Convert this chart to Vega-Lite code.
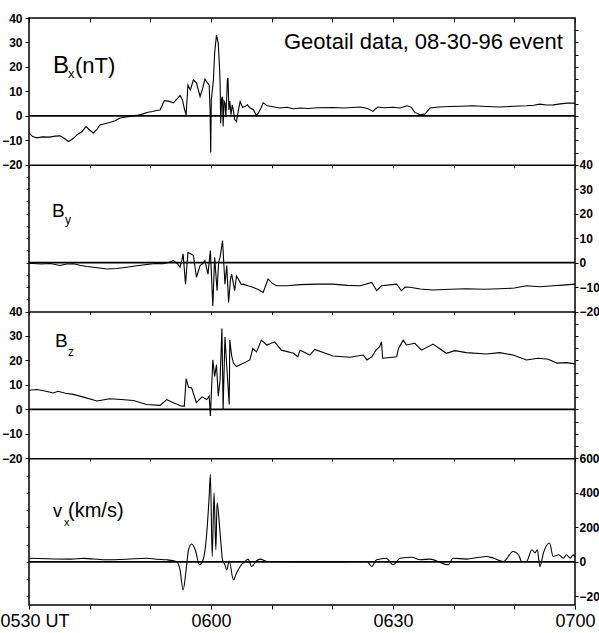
{
  "$schema": "https://vega.github.io/schema/vega-lite/v6.json",
  "width": 546,
  "height": 587,
  "autosize": {"type": "none"},
  "padding": {"left": 29, "top": 18, "right": 24, "bottom": 28},
  "background": "white",
  "config": {
    "view": {"stroke": "black", "strokeWidth": 1.5},
    "axis": {"domain": false, "grid": false, "tickColor": "black", "labelColor": "black", "labelFont": "Liberation Sans", "labelFontWeight": "bold", "labelFontSize": 12, "tickSize": 4, "title": null, "labelOverlap": false}
  },
  "data": {"values": [{"k": 0}]},
  "datasets": {
    "bx": [
      {"t":0,"v":-7},{"t":0.6,"v":-8.5},{"t":1.3,"v":-9},{"t":2.2,"v":-8.6},{"t":3.4,"v":-8.7},{"t":4.3,"v":-8.3},{"t":5.1,"v":-8.2},{"t":5.8,"v":-9.2},{"t":6.5,"v":-10.5},{"t":7.2,"v":-9.5},{"t":7.9,"v":-7.8},{"t":8.7,"v":-6.5},{"t":9.4,"v":-4.4},{"t":10.0,"v":-5.8},{"t":10.6,"v":-7},{"t":11.2,"v":-5.5},{"t":11.7,"v":-3.7},{"t":12.5,"v":-3.2},{"t":13.3,"v":-2.7},{"t":14.2,"v":-2.0},{"t":15,"v":-0.9},{"t":16,"v":-0.5},{"t":17.2,"v":0},{"t":18,"v":0.3},{"t":18.8,"v":0.8},{"t":19.6,"v":1.5},{"t":20.4,"v":1.8},{"t":21,"v":2.2},{"t":21.6,"v":2.4},{"t":22.0,"v":4.5},{"t":22.3,"v":6.2},{"t":23.0,"v":6.0},{"t":23.8,"v":5.3},{"t":24.4,"v":6.9},{"t":24.9,"v":8.3},{"t":25.3,"v":6.5},{"t":25.6,"v":3.0},{"t":25.9,"v":0.4},{"t":26.2,"v":12.6},{"t":26.6,"v":10.6},{"t":27.1,"v":14.7},{"t":27.6,"v":13.5},{"t":28.2,"v":7.9},{"t":28.6,"v":11},{"t":29.0,"v":15},{"t":29.4,"v":13.5},{"t":29.7,"v":12.6},{"t":29.85,"v":2},{"t":29.95,"v":-15},{"t":30.05,"v":6.5},{"t":30.4,"v":14.7},{"t":30.6,"v":25.6},{"t":30.9,"v":33},{"t":31.2,"v":29.6},{"t":31.4,"v":20},{"t":31.5,"v":13.5},{"t":31.6,"v":-3},{"t":31.75,"v":7},{"t":31.9,"v":7.8},{"t":32.0,"v":-4.4},{"t":32.15,"v":6},{"t":32.3,"v":5.3},{"t":32.45,"v":-0.3},{"t":32.6,"v":8},{"t":32.7,"v":14.7},{"t":32.8,"v":15.5},{"t":32.95,"v":2.4},{"t":33.1,"v":6},{"t":33.3,"v":0.5},{"t":33.5,"v":4.5},{"t":33.7,"v":2},{"t":33.9,"v":-1.5},{"t":34.2,"v":-2.3},{"t":34.5,"v":2},{"t":34.8,"v":5.8},{"t":35.2,"v":3.5},{"t":35.6,"v":3.8},{"t":36.0,"v":4.5},{"t":36.4,"v":3.3},{"t":37.0,"v":2.5},{"t":37.5,"v":0},{"t":37.8,"v":1.2},{"t":38.2,"v":3},{"t":38.6,"v":5.3},{"t":39.2,"v":4.2},{"t":40.2,"v":3.7},{"t":41.3,"v":3.2},{"t":42.5,"v":3.5},{"t":43.6,"v":2.9},{"t":44.7,"v":3.2},{"t":46,"v":3.0},{"t":47.5,"v":3.3},{"t":50.1,"v":3.4},{"t":52,"v":3.2},{"t":54.6,"v":3.6},{"t":55.8,"v":3.0},{"t":56.7,"v":1.8},{"t":57.1,"v":2.8},{"t":57.5,"v":3.6},{"t":58.5,"v":3.3},{"t":60,"v":3.5},{"t":61.2,"v":3.2},{"t":62.3,"v":4.1},{"t":63.0,"v":3.5},{"t":63.6,"v":1.4},{"t":64.5,"v":0.4},{"t":65.3,"v":0.8},{"t":66.1,"v":3.2},{"t":67.5,"v":3.6},{"t":69.4,"v":3.8},{"t":71.2,"v":3.9},{"t":73.2,"v":4.1},{"t":75.4,"v":3.8},{"t":77.6,"v":3.6},{"t":79.8,"v":3.9},{"t":82,"v":4.1},{"t":83.2,"v":4.3},{"t":84.2,"v":4.8},{"t":85.3,"v":4.4},{"t":86.4,"v":4.5},{"t":87.6,"v":4.9},{"t":88.7,"v":5.2},{"t":90,"v":5.2}
    ],
    "by": [
      {"t":0,"v":-0.3},{"t":2,"v":-0.6},{"t":3.5,"v":-0.4},{"t":5.1,"v":-1.2},{"t":6.2,"v":-0.6},{"t":7.3,"v":-0.5},{"t":8.4,"v":-1.1},{"t":9.5,"v":-1.6},{"t":11,"v":-2.0},{"t":12.8,"v":-2.6},{"t":14.5,"v":-2.4},{"t":16.1,"v":-1.9},{"t":17.8,"v":-1.3},{"t":19.4,"v":-0.8},{"t":20.8,"v":-0.4},{"t":22.1,"v":-0.5},{"t":23.0,"v":0},{"t":23.8,"v":0.8},{"t":24.5,"v":-0.5},{"t":24.9,"v":-1.9},{"t":25.2,"v":1},{"t":25.4,"v":3.6},{"t":25.8,"v":-8.8},{"t":26.2,"v":4.2},{"t":26.7,"v":3.5},{"t":27.1,"v":2.9},{"t":27.6,"v":-6},{"t":28.2,"v":-1.2},{"t":28.6,"v":-0.5},{"t":29.0,"v":0.8},{"t":29.5,"v":-4.7},{"t":29.9,"v":4.9},{"t":30.3,"v":-17.7},{"t":30.6,"v":2.2},{"t":31.0,"v":-11.5},{"t":31.25,"v":0},{"t":31.5,"v":2.2},{"t":31.9,"v":9},{"t":32.3,"v":-8.8},{"t":32.6,"v":-1.2},{"t":32.9,"v":-16.3},{"t":33.2,"v":-7},{"t":33.4,"v":-4.7},{"t":33.9,"v":-11.5},{"t":34.2,"v":-5.5},{"t":34.5,"v":-6.7},{"t":35.0,"v":-9},{"t":35.3,"v":-8.8},{"t":36.1,"v":-9.5},{"t":36.9,"v":-10.1},{"t":37.8,"v":-11},{"t":38.6,"v":-12.2},{"t":39.4,"v":-6.7},{"t":40.1,"v":-8.5},{"t":40.8,"v":-9.5},{"t":42.5,"v":-9.5},{"t":44.7,"v":-9.0},{"t":47.5,"v":-8.8},{"t":50.1,"v":-8.8},{"t":52.5,"v":-9.3},{"t":54.6,"v":-9.5},{"t":56.5,"v":-8.1},{"t":57.3,"v":-11.5},{"t":58.1,"v":-9.5},{"t":60.6,"v":-8.8},{"t":61.4,"v":-11.5},{"t":62.0,"v":-10},{"t":62.8,"v":-10.1},{"t":64.5,"v":-10.8},{"t":66.6,"v":-11.2},{"t":69.4,"v":-10.9},{"t":72.1,"v":-10.7},{"t":75,"v":-10.9},{"t":77.6,"v":-10.7},{"t":80,"v":-10.4},{"t":82,"v":-9.5},{"t":84.2,"v":-9.9},{"t":86.4,"v":-9.5},{"t":88,"v":-9.2},{"t":90,"v":-8.8}
    ],
    "bz": [
      {"t":0,"v":7.8},{"t":1.3,"v":8.1},{"t":2.6,"v":7.5},{"t":4.0,"v":6.7},{"t":4.8,"v":7.4},{"t":6,"v":6.6},{"t":7.3,"v":6.1},{"t":9,"v":5.0},{"t":11.2,"v":3.4},{"t":13.3,"v":4.3},{"t":15.2,"v":4.0},{"t":17.2,"v":3.6},{"t":19.4,"v":2.0},{"t":21.6,"v":1.6},{"t":22.7,"v":4.0},{"t":23.8,"v":2.7},{"t":25.2,"v":1.3},{"t":25.6,"v":1.3},{"t":25.9,"v":12.5},{"t":26.3,"v":9},{"t":26.8,"v":8.8},{"t":27.6,"v":2.7},{"t":28.5,"v":5.1},{"t":29.3,"v":4.0},{"t":29.7,"v":5.4},{"t":29.9,"v":-2.7},{"t":30.3,"v":20.2},{"t":30.6,"v":13.5},{"t":30.9,"v":18.2},{"t":31.2,"v":5.4},{"t":31.5,"v":12.1},{"t":31.8,"v":33},{"t":32.0,"v":0},{"t":32.3,"v":29.6},{"t":32.6,"v":17.5},{"t":33.0,"v":2},{"t":33.1,"v":28.3},{"t":33.4,"v":22},{"t":33.7,"v":18.9},{"t":34.2,"v":17.5},{"t":34.8,"v":18.2},{"t":35.5,"v":19},{"t":36.4,"v":20.2},{"t":36.9,"v":24.9},{"t":37.5,"v":23.5},{"t":38.3,"v":28.3},{"t":39.2,"v":26.3},{"t":40.5,"v":27.6},{"t":41.6,"v":24.2},{"t":43.6,"v":22.9},{"t":44.3,"v":21.5},{"t":44.7,"v":24.2},{"t":46.3,"v":22.2},{"t":47.1,"v":24.5},{"t":50.1,"v":21.8},{"t":52.9,"v":21.3},{"t":55.1,"v":22.2},{"t":55.7,"v":20.2},{"t":56.5,"v":21.5},{"t":57.2,"v":24.2},{"t":57.8,"v":25.6},{"t":58.1,"v":27.6},{"t":58.3,"v":20.9},{"t":60.6,"v":21.5},{"t":60.9,"v":24.9},{"t":61.7,"v":28.3},{"t":62.2,"v":26.3},{"t":63.6,"v":27},{"t":64.7,"v":24.2},{"t":66.6,"v":26.7},{"t":68.8,"v":22.9},{"t":70.2,"v":24},{"t":72.1,"v":23.2},{"t":75.4,"v":22.6},{"t":77.6,"v":23.2},{"t":79.8,"v":22.2},{"t":82,"v":20.2},{"t":83.9,"v":20.9},{"t":85.6,"v":20.5},{"t":87,"v":18.9},{"t":88.6,"v":19.1},{"t":90,"v":18.6}
    ],
    "vx": [
      {"t":0,"v":21},{"t":3,"v":18},{"t":6.9,"v":16},{"t":9,"v":20},{"t":12.5,"v":12},{"t":16,"v":15},{"t":19.4,"v":21},{"t":21,"v":15},{"t":22.7,"v":12},{"t":24.3,"v":2},{"t":24.9,"v":-47},{"t":25.4,"v":-163},{"t":25.9,"v":-47},{"t":26.3,"v":70},{"t":26.8,"v":103},{"t":27.4,"v":70},{"t":28.1,"v":-17},{"t":28.7,"v":12},{"t":29.3,"v":167},{"t":29.7,"v":380},{"t":29.9,"v":507},{"t":30.2,"v":31},{"t":30.5,"v":400},{"t":30.8,"v":70},{"t":31.0,"v":342},{"t":31.5,"v":167},{"t":31.9,"v":12},{"t":32.3,"v":-17},{"t":32.6,"v":-47},{"t":33.0,"v":5},{"t":33.7,"v":-105},{"t":34.2,"v":-66},{"t":35.0,"v":-17},{"t":35.6,"v":2},{"t":36.1,"v":16},{"t":36.7,"v":-27},{"t":37.5,"v":6},{"t":38.1,"v":16},{"t":39.2,"v":2},{"t":44.7,"v":0},{"t":50,"v":0},{"t":55.7,"v":2},{"t":56.5,"v":-27},{"t":57.3,"v":12},{"t":58.9,"v":21},{"t":60,"v":-17},{"t":61.2,"v":21},{"t":63.1,"v":27},{"t":64.5,"v":12},{"t":66.1,"v":16},{"t":69.1,"v":-17},{"t":69.9,"v":21},{"t":72.1,"v":16},{"t":74.3,"v":27},{"t":75.4,"v":31},{"t":76.6,"v":21},{"t":78.2,"v":2},{"t":79.8,"v":60},{"t":80.7,"v":41},{"t":81.2,"v":2},{"t":82,"v":2},{"t":82.9,"v":70},{"t":83.4,"v":52},{"t":83.8,"v":70},{"t":84.2,"v":-27},{"t":84.8,"v":52},{"t":85.8,"v":109},{"t":86.4,"v":31},{"t":87.3,"v":41},{"t":88.1,"v":21},{"t":88.6,"v":41},{"t":89.2,"v":21},{"t":89.7,"v":41},{"t":90,"v":30}
    ]
  },
  "layer": [
    {
      "data": {"name": "bx"},
      "mark": {"type": "line", "color": "black", "strokeWidth": 1.1},
      "encoding": {
        "x": {"field": "t", "type": "quantitative", "scale": {"domain": [0, 90], "nice": false}, "axis": {"orient": "top", "values": [0,10,20,30,40,50,60,70,80,90], "labels": false, "tickSize": -4}},
        "y": {"field": "v", "type": "quantitative", "scale": {"domain": [-20, 40], "range": [146.75, 0], "nice": false}, "axis": {"orient": "left", "values": [-20,-10,0,10,20,30,40], "tickSize": 4, "labelPadding": 3}}
      }
    },
    {
      "mark": {"type": "rule", "color": "black", "strokeWidth": 1.8},
      "encoding": {
        "x": {"datum": 0, "type": "quantitative", "scale": {"domain": [0, 90], "nice": false}, "axis": {"orient": "bottom", "offset": -440.25, "values": [0,10,20,30,40,50,60,70,80,90], "labels": false, "tickSize": 3, "domain": true, "domainColor": "black", "domainWidth": 1.5}},
        "x2": {"datum": 90},
        "y": {"datum": 0, "type": "quantitative", "scale": {"domain": [-20, 40], "range": [146.75, 0], "nice": false}, "axis": {"orient": "right", "values": [-15,-10,-5,0,5,10,15,20,25,30,35], "labels": false, "tickSize": 3}}
      }
    },
    {
      "data": {"name": "by"},
      "mark": {"type": "line", "color": "black", "strokeWidth": 1.1},
      "encoding": {
        "x": {"field": "t", "type": "quantitative", "scale": {"domain": [0, 90], "nice": false}, "axis": null},
        "y": {"field": "v", "type": "quantitative", "scale": {"domain": [-20, 40], "range": [293.5, 146.75], "nice": false}, "axis": {"orient": "right", "values": [-20,-10,0,10,20,30,40], "tickSize": 3, "labelPadding": 1}}
      }
    },
    {
      "mark": {"type": "rule", "color": "black", "strokeWidth": 1.8},
      "encoding": {
        "x": {"datum": 0, "type": "quantitative", "scale": {"domain": [0, 90], "nice": false}, "axis": {"orient": "bottom", "offset": -293.5, "values": [0,10,20,30,40,50,60,70,80,90], "labels": false, "tickSize": 3, "domain": true, "domainColor": "black", "domainWidth": 1.5}},
        "x2": {"datum": 90},
        "y": {"datum": 0, "type": "quantitative", "scale": {"domain": [-20, 40], "range": [293.5, 146.75], "nice": false}, "axis": {"orient": "left", "values": [-15,-10,-5,0,5,10,15,20,25,30,35], "labels": false, "tickSize": 3}}
      }
    },
    {
      "data": {"name": "bz"},
      "mark": {"type": "line", "color": "black", "strokeWidth": 1.1},
      "encoding": {
        "x": {"field": "t", "type": "quantitative", "scale": {"domain": [0, 90], "nice": false}, "axis": null},
        "y": {"field": "v", "type": "quantitative", "scale": {"domain": [-20, 40], "range": [440.25, 293.5], "nice": false}, "axis": {"orient": "left", "values": [-20,-10,0,10,20,30,40], "tickSize": 4, "labelPadding": 3}}
      }
    },
    {
      "mark": {"type": "rule", "color": "black", "strokeWidth": 1.8},
      "encoding": {
        "x": {"datum": 0, "type": "quantitative", "scale": {"domain": [0, 90], "nice": false}, "axis": {"orient": "bottom", "offset": -146.75, "values": [0,10,20,30,40,50,60,70,80,90], "labels": false, "tickSize": 3, "domain": true, "domainColor": "black", "domainWidth": 1.5}},
        "x2": {"datum": 90},
        "y": {"datum": 0, "type": "quantitative", "scale": {"domain": [-20, 40], "range": [440.25, 293.5], "nice": false}, "axis": {"orient": "right", "values": [-15,-10,-5,0,5,10,15,20,25,30,35], "labels": false, "tickSize": 3}}
      }
    },
    {
      "data": {"name": "vx"},
      "mark": {"type": "line", "color": "black", "strokeWidth": 1.1, "interpolate": "monotone"},
      "encoding": {
        "x": {"field": "t", "type": "quantitative", "scale": {"domain": [0, 90], "nice": false}, "axis": {"orient": "bottom", "values": [0,10,20,30,40,50,60,70,80,90], "tickSize": 4, "labelPadding": 3, "labelFontSize": 18, "labelFontWeight": "normal", "labelExpr": "datum.value == 0 ? '0530 UT' : datum.value == 30 ? '0600' : datum.value == 60 ? '0630' : datum.value == 90 ? '0700' : ''", "labelAlign": {"condition": {"test": "datum.value == 0", "value": "left"}, "value": "center"}, "labelOffset": {"condition": {"test": "datum.value == 0", "value": -29}, "value": 0}}},
        "y": {"field": "v", "type": "quantitative", "scale": {"domain": [-250, 600], "range": [587, 440.25], "nice": false}, "axis": {"orient": "right", "values": [-200,0,200,400,600], "tickSize": 3, "labelPadding": 1}}
      }
    },
    {
      "mark": {"type": "rule", "color": "black", "strokeWidth": 1.8},
      "encoding": {
        "x": {"datum": 0, "type": "quantitative", "scale": {"domain": [0, 90], "nice": false}, "axis": null},
        "x2": {"datum": 90},
        "y": {"datum": 0, "type": "quantitative", "scale": {"domain": [-250, 600], "range": [587, 440.25], "nice": false}, "axis": {"orient": "left", "values": [-200,-100,0,100,200,300,400,500], "labels": false, "tickSize": 3}}
      }
    },
    {
      "data": {"values": [{"s": "B", "t": 3.96, "v": 17.6, "r": "main"}, {"s": "x", "t": 6.43, "v": 15.3, "r": "sub"}, {"s": "(nT)", "t": 7.58, "v": 17.6, "r": "unit"}]},
      "mark": {"type": "text", "align": "left", "baseline": "alphabetic", "font": "Liberation Sans", "color": "black"},
      "encoding": {
        "x": {"field": "t", "type": "quantitative", "scale": {"domain": [0, 90], "nice": false}, "axis": null},
        "y": {"field": "v", "type": "quantitative", "scale": {"domain": [-20, 40], "range": [146.75, 0], "nice": false}, "axis": null},
        "text": {"field": "s"},
        "size": {"field": "r", "type": "ordinal", "scale": {"type": "ordinal", "domain": ["main", "sub", "unit"], "range": [24, 13, 22]}, "legend": null}
      }
    },
    {
      "data": {"values": [{"s": "Geotail data, 08-30-96 event", "t": 88.0, "v": 27.3}]},
      "mark": {"type": "text", "align": "right", "baseline": "alphabetic", "font": "Liberation Sans", "fontSize": 22, "color": "black"},
      "encoding": {
        "x": {"field": "t", "type": "quantitative", "scale": {"domain": [0, 90], "nice": false}, "axis": null},
        "y": {"field": "v", "type": "quantitative", "scale": {"domain": [-20, 40], "range": [146.75, 0], "nice": false}, "axis": null},
        "text": {"field": "s"}
      }
    },
    {
      "data": {"values": [{"s": "B", "t": 3.79, "v": 18.5, "r": "main"}, {"s": "y", "t": 5.93, "v": 15.6, "r": "sub"}]},
      "mark": {"type": "text", "align": "left", "baseline": "alphabetic", "font": "Liberation Sans", "color": "black"},
      "encoding": {
        "x": {"field": "t", "type": "quantitative", "scale": {"domain": [0, 90], "nice": false}, "axis": null},
        "y": {"field": "v", "type": "quantitative", "scale": {"domain": [-20, 40], "range": [293.5, 146.75], "nice": false}, "axis": null},
        "text": {"field": "s"},
        "size": {"field": "r", "type": "ordinal", "scale": {"type": "ordinal", "domain": ["main", "sub"], "range": [19, 12]}, "legend": null}
      }
    },
    {
      "data": {"values": [{"s": "B", "t": 4.28, "v": 25.5, "r": "main"}, {"s": "z", "t": 6.43, "v": 21.8, "r": "sub"}]},
      "mark": {"type": "text", "align": "left", "baseline": "alphabetic", "font": "Liberation Sans", "color": "black"},
      "encoding": {
        "x": {"field": "t", "type": "quantitative", "scale": {"domain": [0, 90], "nice": false}, "axis": null},
        "y": {"field": "v", "type": "quantitative", "scale": {"domain": [-20, 40], "range": [440.25, 293.5], "nice": false}, "axis": null},
        "text": {"field": "s"},
        "size": {"field": "r", "type": "ordinal", "scale": {"type": "ordinal", "domain": ["main", "sub"], "range": [19, 12]}, "legend": null}
      }
    },
    {
      "data": {"values": [{"s": "v", "t": 3.96, "v": 262, "r": "main"}, {"s": "x", "t": 5.77, "v": 210, "r": "sub"}, {"s": "(km/s)", "t": 6.43, "v": 262, "r": "unit"}]},
      "mark": {"type": "text", "align": "left", "baseline": "alphabetic", "font": "Liberation Sans", "color": "black"},
      "encoding": {
        "x": {"field": "t", "type": "quantitative", "scale": {"domain": [0, 90], "nice": false}, "axis": null},
        "y": {"field": "v", "type": "quantitative", "scale": {"domain": [-250, 600], "range": [587, 440.25], "nice": false}, "axis": null},
        "text": {"field": "s"},
        "size": {"field": "r", "type": "ordinal", "scale": {"type": "ordinal", "domain": ["main", "sub", "unit"], "range": [18, 11, 20]}, "legend": null}
      }
    }
  ],
  "resolve": {"scale": {"y": "independent", "size": "independent"}, "axis": {"y": "independent", "x": "independent"}}
}
